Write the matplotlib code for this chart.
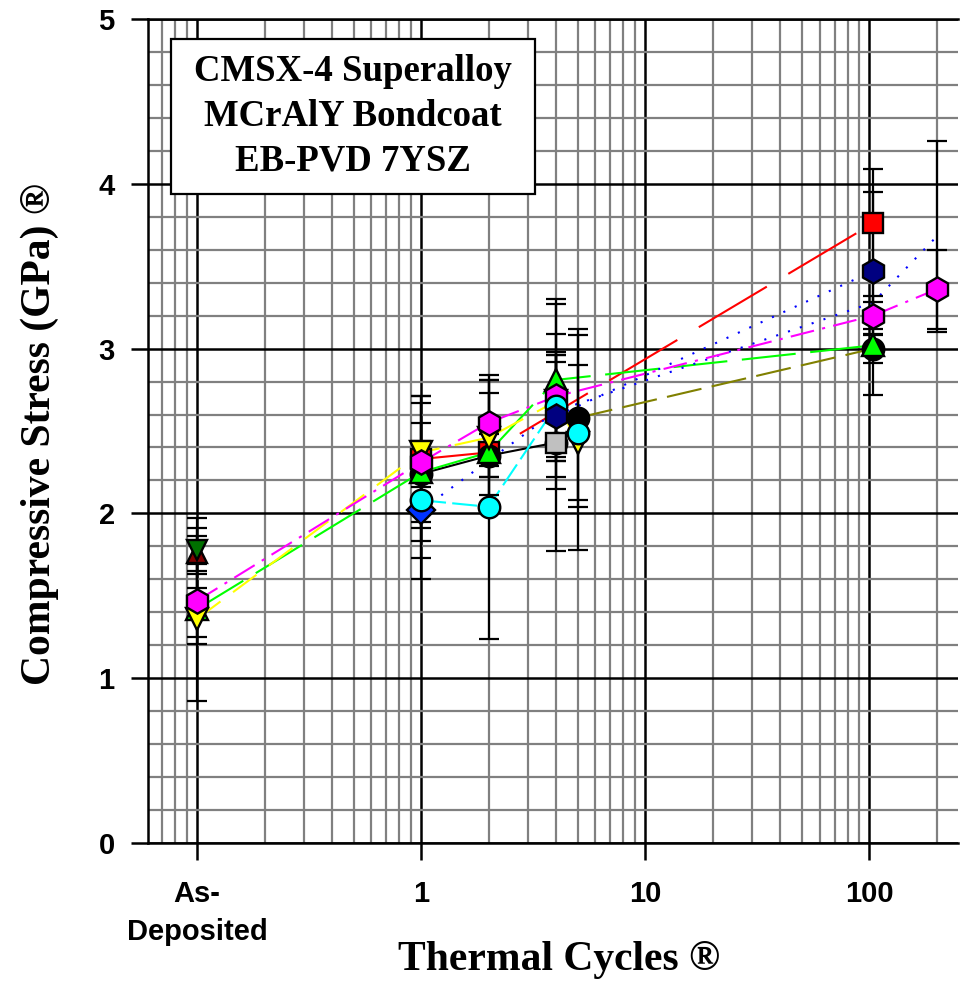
import matplotlib
matplotlib.use("Agg")
import matplotlib.pyplot as plt
from matplotlib.patches import Rectangle
from matplotlib.ticker import FixedLocator, LogLocator, MultipleLocator, NullFormatter

# ---- data ----
cycle_ticks = [0.1, 1, 10, 100]
cycle_labels = ["As-\nDeposited", "1", "10", "100"]
stress_ticks = [0, 1, 2, 3, 4, 5]

# x = thermal cycles ("As-Deposited" is placed at 0.1), y = stress GPa, err = +/- GPa
maroon_x = [0.1]
maroon_y = [1.76]
maroon_err = [0.21]

dkgreen_x = [0.1]
dkgreen_y = [1.78]
dkgreen_err = [0.13]

red_x = [1, 2, 104]
red_y = [2.33, 2.37, 3.76]
red_err = [0.38, 0.15, 0.33]

black_x = [1, 2, 4]
black_y = [2.24, 2.35, 2.43]
black_err = [0.08, 0.13, 0.0]

grey_x = [4]
grey_y = [2.43]
grey_err = [0.66]

olive_x = [5, 104]
olive_y = [2.58, 3.00]
olive_err = [0.54, 0.09]

lime_x = [0.1, 1, 2, 4, 104]
lime_y = [1.42, 2.25, 2.37, 2.81, 3.02]
lime_err = [0.21, 0.42, 0.36, 0.49, 0.30]

yellow_x = [0.1, 1, 2, 4, 5]
yellow_y = [1.36, 2.37, 2.46, 2.68, 2.43]
yellow_err = [0.50, 0.18, 0.35, 0.30, 0.65]

blue_x = [1, 4, 104, 200]
blue_y = [2.02, 2.62, 3.28, 3.68]
blue_err = [0.42, 0.30, 0.20, 0.58]

magenta_x = [0.1, 1, 2, 4, 104, 200]
magenta_y = [1.47, 2.31, 2.55, 2.71, 3.20, 3.36]
magenta_err = [0.22, 0.40, 0.26, 0.56, 0.08, 0.24]

cyan_x = [1, 2, 4, 5]
cyan_y = [2.08, 2.04, 2.65, 2.49]
cyan_err = [0.35, 0.80, 0.31, 0.41]

navy_x = [4, 104]
navy_y = [2.59, 3.47]
navy_err = [0.37, 0.48]

# drawing order = bottom to top
series = [
    dict(x=maroon_x, y=maroon_y, err=maroon_err, marker="^", fc="#800000", ms=15, lc=None),
    dict(x=dkgreen_x, y=dkgreen_y, err=dkgreen_err, marker="v", fc="#007000", ms=15, lc=None),
    dict(x=red_x, y=red_y, err=red_err, marker="s", fc="#ff0000", ms=14, lc="#ff0000", dashes=(38, 12)),
    dict(x=black_x, y=black_y, err=black_err, marker="o", fc="black", ms=15.5, lc="black", dashes=None),
    dict(x=grey_x, y=grey_y, err=grey_err, marker="s", fc="#c0c0c0", ms=14, lc=None),
    dict(x=olive_x, y=olive_y, err=olive_err, marker="o", fc="black", ms=15.5, lc="#808000", dashes=(17, 5)),
    dict(x=lime_x, y=lime_y, err=lime_err, marker="^", fc="#00ff00", ms=15.5, lc="#00ff00", dashes=(26, 7)),
    dict(x=yellow_x, y=yellow_y, err=yellow_err, marker="v", fc="#ffff00", ms=15.5, lc="#ffff00", dashes=(14, 7.5)),
    dict(x=blue_x, y=blue_y, err=blue_err, marker="D", fc="#0033ff", ms=14, lc="#0000ff", dashes=(1, 5), every=[0]),
    dict(x=magenta_x, y=magenta_y, err=magenta_err, marker="h", fc="#ff00ff", ms=17.5, lc="#ff00ff", dashes=(11.5, 4, 1.5, 4)),
    dict(x=cyan_x, y=cyan_y, err=cyan_err, marker="o", fc="#00ffff", ms=15.5, lc="#00ffff", dashes=(12, 3)),
    dict(x=navy_x, y=navy_y, err=navy_err, marker="h", fc="#000080", ms=17.5, lc="#0000ff", dashes=(1, 5)),
]

sans = ["Liberation Sans", "DejaVu Sans"]
serif = ["Liberation Serif", "DejaVu Serif"]

fig = plt.figure(figsize=(9.6, 9.81), dpi=100)
ax = fig.add_axes([148 / 960, 1 - 843 / 981, 810 / 960, 824 / 981])

for s in series:
    ax.errorbar(s["x"], s["y"], yerr=s["err"], fmt="none", ecolor="black",
                elinewidth=1.6, capsize=7, capthick=1.6, zorder=3)

for i, s in enumerate(series):
    if s["lc"] is not None:
        ln, = ax.plot(s["x"], s["y"], color=s["lc"], lw=1.5, zorder=2)
        if s.get("dashes"):
            ln.set_dashes(s["dashes"])
    ax.plot(s["x"], s["y"], linestyle="none", marker=s["marker"], ms=s["ms"],
            mfc=s["fc"], mec="black", mew=1.7, markevery=s.get("every"),
            zorder=5 + i)

ax.set_xscale("log")
ax.set_xlim(0.0604, 249)
ax.set_ylim(0, 5)

ax.xaxis.set_major_locator(FixedLocator(cycle_ticks))
ax.set_xticklabels(cycle_labels)
ax.xaxis.set_minor_locator(LogLocator(base=10, subs=range(2, 10), numticks=20))
ax.xaxis.set_minor_formatter(NullFormatter())
ax.set_yticks(stress_ticks)
ax.yaxis.set_minor_locator(MultipleLocator(0.2))

ax.grid(which="major", color="black", lw=1.8)
ax.grid(which="minor", color="#808080", lw=1.6)
ax.set_axisbelow(True)

ax.tick_params(which="major", direction="out", length=12, width=1.8)
ax.tick_params(axis="x", pad=15)
ax.tick_params(axis="y", pad=12)
ax.tick_params(which="minor", length=0)
for lab in ax.get_xticklabels() + ax.get_yticklabels():
    lab.set_family(sans)
    lab.set_fontweight("bold")
    lab.set_fontsize(21)
    lab.set_linespacing(1.45)

for side in ["left", "bottom", "top"]:
    ax.spines[side].set_linewidth(1.8)
ax.spines["right"].set_visible(False)

# annotation box
ax.add_patch(Rectangle((0.0284, 0.7876), 0.4494, 0.1881, transform=ax.transAxes,
                       facecolor="white", edgecolor="black", lw=1.6, zorder=20))
ax.text(0.253, 0.882, "CMSX-4 Superalloy\nMCrAlY Bondcoat\nEB-PVD 7YSZ",
        transform=ax.transAxes, ha="center", va="center", fontsize=26.5,
        fontweight="bold", family=serif, linespacing=1.35, zorder=21)

fig.text(559 / 960, 1 - 960 / 981, "Thermal Cycles \u00ae", ha="center", va="center",
         fontsize=30, fontweight="bold", family=serif)
fig.text(40 / 960, 1 - 434 / 981, "Compressive Stress (GPa) \u00ae", ha="center", va="center",
         rotation=90, fontsize=30, fontweight="bold", family=serif)

fig.savefig("out.png", dpi=100)
